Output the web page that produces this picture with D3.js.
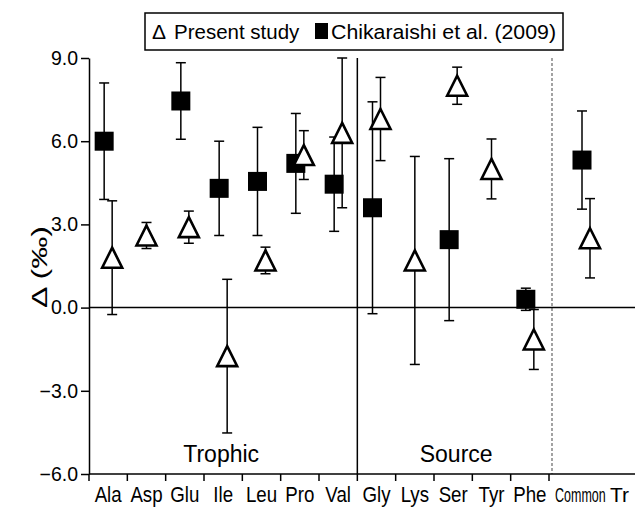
<!DOCTYPE html>
<html>
<head>
<meta charset="utf-8">
<script src="https://cdn.jsdelivr.net/npm/d3@7"></script>
<style>
  html, body { margin: 0; padding: 0; background: #fff; }
  svg { display: block; }
  text { font-family: "Liberation Sans", Arial, Helvetica, sans-serif; fill: #000; }
</style>
</head>
<body>
<svg id="chart" width="635" height="507"></svg>
<script>
// ---- data ----
const categories = ["Ala","Asp","Glu","Ile","Leu","Pro","Val","Gly","Lys","Ser","Tyr","Phe"];
const extraCategories = ["Common"];
const extraLabels = ["Common", "Tr"];
const groupNames = ["Trophic", "Source"];
const groupMembers = [["Ala","Asp","Glu","Ile","Leu","Pro","Val"], ["Gly","Lys","Ser","Tyr","Phe"]];
const allCategories = ["Ala","Asp","Glu","Ile","Leu","Pro","Val","Gly","Lys","Ser","Tyr","Phe","Common"];
const presentMean = [1.8, 2.6, 2.9, -1.75, 1.7, 5.5, 6.3, 6.8, 1.7, 8.0, 5.0, -1.15, 2.5];
const presentErr  = [2.05, 0.47, 0.58, 2.77, 0.48, 0.88, 2.7, 1.5, 3.75, 0.67, 1.08, 1.08, 1.43];
const chikMean    = [6.0, null, 7.45, 4.3, 4.55, 5.2, 4.45, 3.6, null, 2.45, null, 0.3, 5.32];
const chikErr     = [2.1, null, 1.38, 1.7, 1.95, 1.8, 1.7, 3.82, null, 2.92, null, 0.4, 1.77];
const yTicks = [-6, -3, 0, 3, 6, 9];
const legendLabels = ["Present study", "Chikaraishi et al. (2009)"];
const yTitle = "\u0394 (\u2030)";

(function () {
// ---- layout ----
const svg = d3.select("#chart");
const mLeft = 89, mBottom = 474, mTop = 58, mRight = 635;
const xMain = d3.scaleBand().domain(categories).range([mLeft, 549]);
const xExtra = d3.scaleBand().domain(extraCategories).range([552, 620]);
const xc = c => categories.includes(c) ? xMain(c) + xMain.bandwidth() / 2 : xExtra(c) + xExtra.bandwidth() / 2;
const y = d3.scaleLinear().domain([-6, 9]).range([mBottom, mTop]);

// dividers
svg.append("line").attr("x1", xMain("Gly")).attr("x2", xMain("Gly"))
  .attr("y1", mTop).attr("y2", mBottom).attr("stroke", "#000").attr("stroke-width", 1.5);
svg.append("line").attr("x1", xExtra.range()[0]).attr("x2", xExtra.range()[0])
  .attr("y1", mTop).attr("y2", mBottom).attr("stroke", "#666").attr("stroke-width", 1.2)
  .attr("stroke-dasharray", "3,2");

// zero line
svg.append("line").attr("x1", mLeft).attr("x2", mRight).attr("y1", y(0)).attr("y2", y(0))
  .attr("stroke", "#000").attr("stroke-width", 1.5);

// y axis
const yAxis = svg.append("g").attr("transform", `translate(${mLeft},0)`)
  .call(d3.axisLeft(y).tickValues(yTicks).tickFormat(d3.format(".1f")).tickSize(8).tickSizeOuter(0).tickPadding(3));
yAxis.select(".domain").attr("stroke-width", 1.5);
yAxis.selectAll(".tick line").attr("stroke-width", 1.5);
yAxis.selectAll("text").style("font-size", "19.5px").attr("font-family", null);

// x axis
svg.append("line").attr("x1", mLeft).attr("x2", mRight).attr("y1", mBottom).attr("y2", mBottom)
  .attr("stroke", "#000").attr("stroke-width", 1.5);
const boundaries = categories.map(c => xMain(c)).concat([xMain.range()[1]]);
svg.selectAll(".xtick").data(boundaries).enter().append("line")
  .attr("x1", d => d).attr("x2", d => d).attr("y1", mBottom).attr("y2", mBottom + 7)
  .attr("stroke", "#000").attr("stroke-width", 1.5);
const xAxis = svg.append("g").attr("transform", `translate(0,${mBottom})`)
  .call(d3.axisBottom(xMain).tickSize(0));
xAxis.select(".domain").remove();
xAxis.selectAll("text").style("font-size", "22px").attr("font-family", null)
  .attr("y", 28).attr("dy", null).attr("transform", "scale(0.85,1)");

// extra (condensed) category label and the cut-off label at the right edge
svg.append("text").attr("transform", `translate(555,${mBottom + 28}) scale(1,1.55)`)
  .attr("text-anchor", "start").style("font-size", "12.5px")
  .text(extraLabels[0]);
svg.append("text").attr("x", 610).attr("y", mBottom + 28)
  .attr("text-anchor", "start").style("font-size", "21px")
  .text(extraLabels[1]);

// group labels
groupNames.forEach((g, i) => {
  const m = groupMembers[i];
  const x0 = xMain(m[0]), x1 = xMain(m[m.length - 1]) + xMain.bandwidth();
  svg.append("text").attr("x", (x0 + x1) / 2 + (i === 0 ? -2 : 3)).attr("y", 462)
    .attr("text-anchor", "middle").style("font-size", "23px").text(g);
});

// y title
svg.append("text").attr("transform", `translate(47,267) rotate(-90)`)
  .attr("text-anchor", "middle").style("font-size", "22px")
  .attr("textLength", 82).attr("lengthAdjust", "spacingAndGlyphs").text(yTitle);

// ---- marks ----
const capW = 10;
const sqSize = 19, triW = 20, triH = 20;
function errorBar(g, cx, m, e) {
  g.append("line").attr("x1", cx).attr("x2", cx).attr("y1", y(m - e)).attr("y2", y(m + e))
    .attr("stroke", "#000").attr("stroke-width", 1.5);
  [m - e, m + e].forEach(v => {
    g.append("line").attr("x1", cx - capW / 2).attr("x2", cx + capW / 2)
      .attr("y1", y(v)).attr("y2", y(v)).attr("stroke", "#000").attr("stroke-width", 1.5);
  });
}
const sqData = allCategories.map((c, i) => ({c, m: chikMean[i], e: chikErr[i], both: presentMean[i] != null}))
  .filter(d => d.m != null);
const triData = allCategories.map((c, i) => ({c, m: presentMean[i], e: presentErr[i], both: chikMean[i] != null}))
  .filter(d => d.m != null);

const gSq = svg.append("g");
sqData.forEach(d => {
  const cx = xc(d.c) + (d.both ? -4 : 0);
  errorBar(gSq, cx, d.m, d.e);
  gSq.append("rect").attr("x", cx - sqSize / 2).attr("y", y(d.m) - sqSize / 2)
    .attr("width", sqSize).attr("height", sqSize).attr("fill", "#000");
});
const gTri = svg.append("g");
triData.forEach(d => {
  const cx = xc(d.c) + (d.both ? 4 : 0);
  errorBar(gTri, cx, d.m, d.e);
  const cy = y(d.m);
  gTri.append("path")
    .attr("d", `M${cx},${cy - triH / 2}L${cx + triW / 2},${cy + triH / 2}L${cx - triW / 2},${cy + triH / 2}Z`)
    .attr("fill", "#fff").attr("stroke", "#000").attr("stroke-width", 2.6).attr("stroke-linejoin", "miter");
});

// ---- legend ----
const lg = svg.append("g");
lg.append("rect").attr("x", 145).attr("y", 13).attr("width", 418).attr("height", 37)
  .attr("fill", "#fff").attr("stroke", "#000").attr("stroke-width", 1.5);
lg.append("text").attr("x", 152).attr("y", 39).style("font-size", "21px").text("\u0394");
lg.append("text").attr("x", 174).attr("y", 39).style("font-size", "20.5px")
  .text(legendLabels[0]);
lg.append("rect").attr("x", 315).attr("y", 23).attr("width", 13).attr("height", 16).attr("fill", "#000");
lg.append("text").attr("x", 331).attr("y", 39).style("font-size", "20.5px")
  .attr("textLength", 225).attr("lengthAdjust", "spacingAndGlyphs")
  .text(legendLabels[1]);
})();
</script>
</body>
</html>
